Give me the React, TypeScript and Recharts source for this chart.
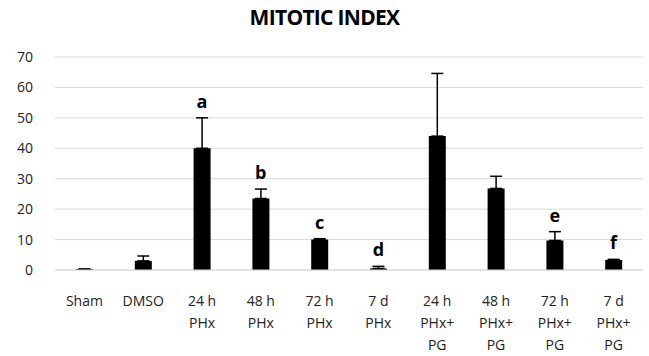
import { ComposedChart, Bar, Line, XAxis, YAxis, CartesianGrid, ErrorBar, LabelList } from 'recharts';

const groups = ['Sham', 'DMSO', '24 h\nPHx', '48 h\nPHx', '72 h\nPHx', '7 d\nPHx', '24 h\nPHx+\nPG', '48 h\nPHx+\nPG', '72 h\nPHx+\nPG', '7 d\nPHx+\nPG'];
const means = [0.3, 3, 40, 23.5, 10, 0.5, 44, 26.8, 9.7, 3.3];
const errors = [0, 1.6, 10, 3.1, 0.3, 0.7, 20.6, 4, 2.9, 0.2];
const letters = ['', '', 'a', 'b', 'c', 'd', '', '', 'e', 'f'];
const yTicks = [0, 10, 20, 30, 40, 50, 60, 70];

const data = groups.map((g, i) => ({
  group: g,
  mean: means[i],
  err: [0, errors[i]],
  top: means[i] + errors[i],
  letter: letters[i],
}));

const font = '"Open Sans", sans-serif';

const GroupTick = (props: any) => {
  const { x, y, payload } = props;
  const lines = String(payload.value).split('\n');
  return (
    <text x={x} y={y} textAnchor="middle" fill="#222" fontSize={14} fontFamily={font}>
      {lines.map((l, i) => (
        <tspan key={i} x={x} dy={i === 0 ? 28 : 22}>
          {l}
        </tspan>
      ))}
    </text>
  );
};

export default function App() {
  return (
    <div style={{ position: 'absolute', left: 0, top: 0, width: 649, height: 356, background: '#fff' }}>
      <div
        style={{
          position: 'absolute',
          left: 0,
          top: 3,
          width: 649,
          textAlign: 'center',
          fontFamily: font,
          fontWeight: 700,
          fontSize: 21,
          letterSpacing: -0.7,
          color: '#000',
        }}
      >
        MITOTIC INDEX
      </div>
      <ComposedChart width={649} height={356} data={data} margin={{ top: 57, right: 6, bottom: 0, left: 0 }}>
        <CartesianGrid vertical={false} stroke="#d9d9d9" />
        <XAxis
          dataKey="group"
          axisLine={{ stroke: '#d9d9d9' }}
          tickLine={false}
          height={86}
          interval={0}
          tick={<GroupTick />}
        />
        <YAxis
          domain={[0, 70]}
          ticks={yTicks}
          width={55}
          axisLine={false}
          tickLine={false}
          tickSize={0}
          tickMargin={22}
          tick={{ fill: '#222', fontSize: 14, fontFamily: font }}
        />
        <Bar dataKey="mean" fill="#000" barSize={17} isAnimationActive={false}>
          <ErrorBar dataKey="err" width={6} stroke="#000" strokeWidth={1.5} direction="y" />
        </Bar>
        <Line dataKey="top" stroke="none" dot={false} activeDot={false} isAnimationActive={false}>
          <LabelList
            dataKey="letter"
            position="top"
            offset={10}
            fill="#000"
            fontSize={18}
            fontWeight={700}
            fontFamily={font}
          />
        </Line>
      </ComposedChart>
    </div>
  );
}
